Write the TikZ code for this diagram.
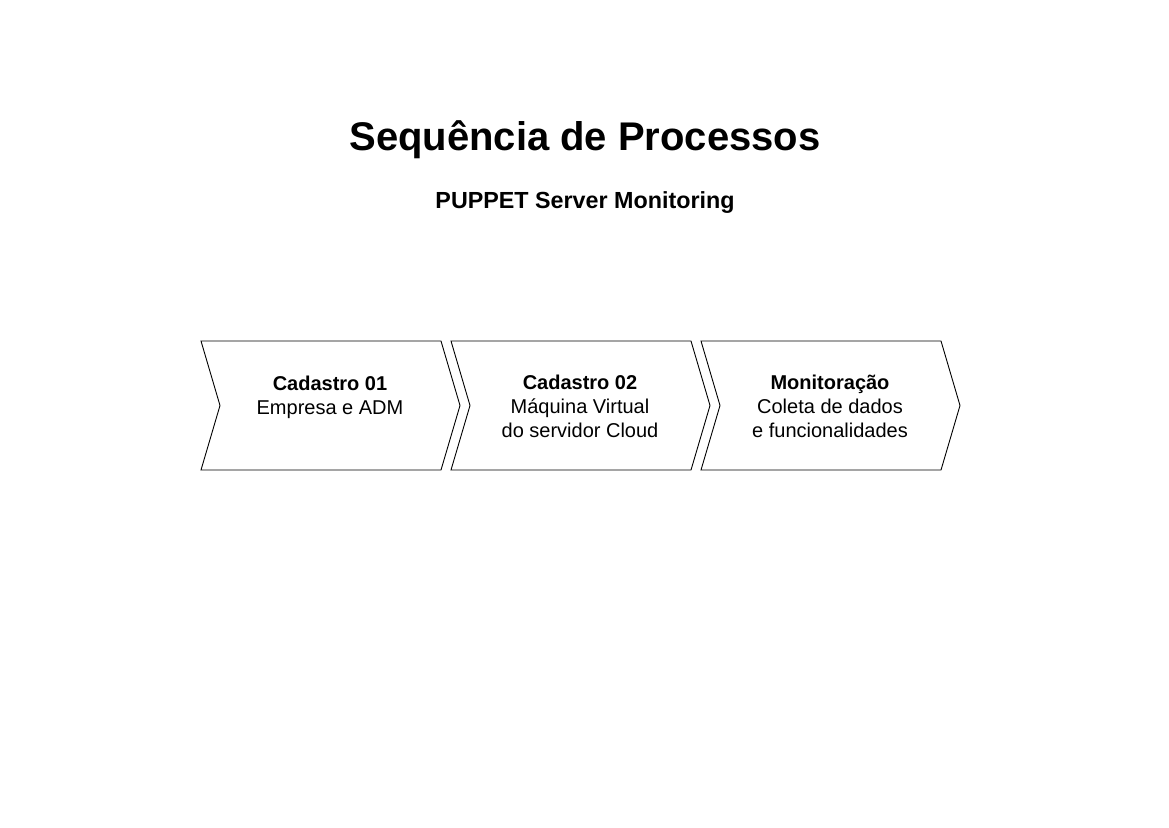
\documentclass[tikz,border=0pt]{standalone}
\usepackage{fontspec}
\setmainfont{Liberation Sans}
\begin{document}
\begin{tikzpicture}[x=1pt,y=-1pt,
  chev/.style={draw=black,line width=0.9pt,fill=white,line join=miter},
  steptext/.style={align=center,font=\fontsize{20}{24}\selectfont,inner sep=0pt},
  titletext/.style={font=\fontsize{40}{48}\selectfont\bfseries,inner sep=0pt,anchor=base},
  subtext/.style={font=\fontsize{23.3}{28}\selectfont\bfseries,inner sep=0pt,anchor=base}]
\useasboundingbox[fill=white] (0,0) rectangle (1169,827);
\node[titletext] (title) at (585,150) {Sequência de Processos};
\node[subtext] (sub) at (585,208) {PUPPET Server Monitoring};
% chevrons
\draw[chev] (201,341) -- (441,341) -- (460,405.5) -- (441,470) -- (201,470) -- (220,405.5) -- cycle;
\draw[chev] (451,341) -- (691,341) -- (710,405.5) -- (691,470) -- (451,470) -- (470,405.5) -- cycle;
\draw[chev] (701,341) -- (941,341) -- (960,405.5) -- (941,470) -- (701,470) -- (720,405.5) -- cycle;
\node[steptext] (s1) at (330,397) {\textbf{Cadastro 01}\\Empresa e ADM};
\node[steptext] (s2) at (580,406) {\textbf{Cadastro 02}\\Máquina Virtual\\do servidor Cloud};
\node[steptext] (s3) at (830,406) {\textbf{Monitoração}\\Coleta de dados\\e funcionalidades};
\end{tikzpicture}
\end{document}
